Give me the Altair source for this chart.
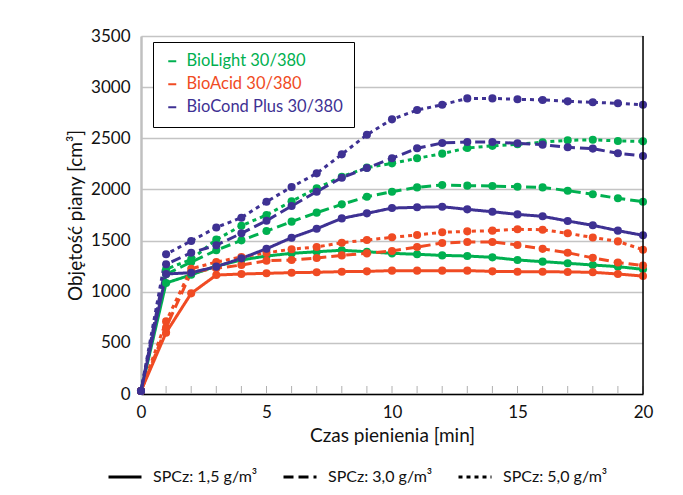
import altair as alt
import pandas as pd

minutes = list(range(21))
products = ["BioLight 30/380", "BioAcid 30/380", "BioCond Plus 30/380"]
product_colors = ["#00b050", "#f04b23", "#3e3193"]
doses = ["SPCz: 1,5 g/m³", "SPCz: 3,0 g/m³", "SPCz: 5,0 g/m³"]
dose_dash = [[1, 0], [10, 5], [4, 4]]

biolight_15 = [30, 1085, 1165, 1250, 1310, 1349, 1375, 1391, 1405, 1391, 1375, 1366, 1355, 1349, 1336, 1310, 1294, 1278, 1261, 1245, 1219]
biolight_30 = [30, 1170, 1290, 1405, 1502, 1593, 1685, 1773, 1854, 1929, 1978, 2020, 2043, 2037, 2033, 2027, 2020, 1988, 1952, 1913, 1880]
biolight_50 = [30, 1220, 1316, 1510, 1645, 1750, 1884, 2011, 2124, 2213, 2255, 2304, 2350, 2405, 2426, 2441, 2462, 2480, 2485, 2474, 2470]
bioacid_15 = [30, 600, 984, 1163, 1173, 1180, 1186, 1190, 1196, 1199, 1206, 1206, 1206, 1206, 1199, 1196, 1196, 1193, 1190, 1173, 1153]
bioacid_30 = [30, 650, 1190, 1229, 1261, 1303, 1310, 1330, 1355, 1375, 1398, 1437, 1476, 1486, 1486, 1457, 1419, 1381, 1331, 1286, 1256]
bioacid_50 = [30, 710, 1225, 1290, 1340, 1380, 1416, 1437, 1479, 1505, 1532, 1555, 1581, 1590, 1597, 1610, 1606, 1571, 1530, 1492, 1411]
biocond_15 = [30, 1173, 1186, 1245, 1326, 1420, 1528, 1616, 1717, 1766, 1818, 1825, 1831, 1805, 1782, 1756, 1737, 1691, 1649, 1597, 1551]
biocond_30 = [30, 1268, 1381, 1455, 1571, 1694, 1838, 1978, 2115, 2209, 2304, 2402, 2454, 2464, 2464, 2451, 2438, 2412, 2399, 2353, 2327]
biocond_50 = [30, 1366, 1496, 1628, 1724, 1880, 2024, 2157, 2343, 2535, 2685, 2776, 2828, 2890, 2890, 2881, 2875, 2861, 2852, 2842, 2828]

series = [
    (products[0], doses[0], biolight_15),
    (products[0], doses[1], biolight_30),
    (products[0], doses[2], biolight_50),
    (products[1], doses[0], bioacid_15),
    (products[1], doses[1], bioacid_30),
    (products[1], doses[2], bioacid_50),
    (products[2], doses[0], biocond_15),
    (products[2], doses[1], biocond_30),
    (products[2], doses[2], biocond_50),
]
rows = []
for prod, dose, vals in series:
    for t, v in zip(minutes, vals):
        rows.append({"t": t, "v": v, "product": prod, "dose": dose, "key": prod + dose})
df = pd.DataFrame(rows)

FONT = "Lato"
W, H = 502, 358

label_expr = ("datum.label == '%s' ? '%s' : datum.label == '%s' ? '%s' : '%s'"
              % (products[0], product_colors[0], products[1], product_colors[1], product_colors[2]))

color_legend = alt.Legend(
    title=None, orient="none", legendX=12, legendY=6,
    symbolType="stroke", symbolSize=64, symbolStrokeWidth=2,
    labelFont=FONT, labelFontSize=16.5, labelColor={"expr": label_expr},
    labelLimit=400,
    labelOffset=6, strokeColor="black", fillColor="white",
    padding=11, rowPadding=6,
)
color_scale = alt.Scale(domain=products, range=product_colors)

x_enc = alt.X("t:Q", scale=alt.Scale(domain=[0, 20], nice=False),
              axis=alt.Axis(values=[0, 5, 10, 15, 20], grid=False, ticks=False,
                            domainColor="black", domainWidth=1.5, labelFlush=False,
                            labelFont=FONT, labelFontSize=17, labelColor="#111",
                            labelPadding=10, title="Czas pienienia [min]",
                            titleFont=FONT, titleFontSize=19, titleFontWeight="normal",
                            titleColor="#111", titlePadding=6))
y_enc = alt.Y("v:Q", scale=alt.Scale(domain=[0, 3500], nice=False),
              axis=alt.Axis(values=list(range(0, 3501, 500)), grid=True, format="d",
                            gridColor="#c4c4c4", gridWidth=1.5, ticks=False,
                            domainColor="#c0c0c0", domainWidth=2.5,
                            labelFont=FONT, labelFontSize=17, labelColor="#111",
                            labelPadding=11, title="Objętość piany [cm³]",
                            titleFont=FONT, titleFontSize=19, titleFontWeight="normal",
                            titleColor="#111", titlePadding=5))

lines = alt.Chart(df).mark_line(strokeWidth=3).encode(
    x=x_enc, y=y_enc,
    color=alt.Color("product:N", scale=color_scale, legend=color_legend),
    strokeDash=alt.StrokeDash("dose:N", scale=alt.Scale(domain=doses, range=dose_dash),
                              legend=alt.Legend(title=None, orient="none", legendX=-34, legendY=423,
                                                direction="horizontal", columns=3,
                                                symbolType="stroke", symbolSize=1089,
                                                symbolStrokeWidth=3, symbolStrokeColor="black",
                                                labelFont=FONT, labelFontSize=16, labelColor="#111",
                                                labelLimit=400,
                                                labelOffset=10, columnPadding=19)),
    detail="key:N",
)

points = alt.Chart(df).mark_circle(size=65, opacity=1).encode(
    x="t:Q", y="v:Q",
    color=alt.Color("product:N", scale=color_scale, legend=color_legend),
)

tick_df = pd.DataFrame({"t": minutes})
ticks = alt.Chart(tick_df).mark_rule(color="#b0b0b0", strokeWidth=1).encode(
    x="t:Q", y=alt.value(H), y2=alt.value(H - 8)
)

border = alt.Chart(pd.DataFrame({"a": [0]})).mark_rule(color="black", strokeWidth=1.5).encode(
    x=alt.value(W), y=alt.value(0), y2=alt.value(H)
)

chart = alt.layer(ticks, lines, points, border).properties(
    width=W, height=H,
    autosize=alt.AutoSizeParams(type="none"),
    padding={"left": 141, "top": 36, "right": 40, "bottom": 101},
).configure_view(stroke=None).configure(font=FONT, background="white")

chart.save("out.html", embed_options={"renderer": "svg", "actions": False})
